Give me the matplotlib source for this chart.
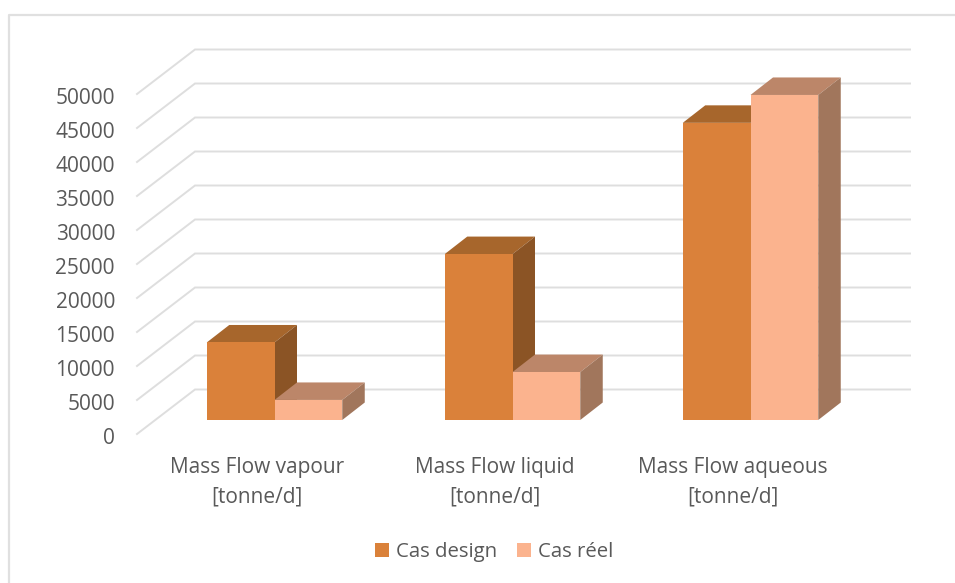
import matplotlib
matplotlib.use("Agg")
import matplotlib.pyplot as plt
from matplotlib.lines import Line2D
from matplotlib.patches import Polygon

plt.rcParams['font.family'] = ['Open Sans', 'DejaVu Sans']

# DATA
categories = ["Mass Flow vapour\n[tonne/d]", "Mass Flow liquid\n[tonne/d]", "Mass Flow aqueous\n[tonne/d]"]
cas_design = [11400, 24400, 43700]
cas_reel = [2950, 7050, 47800]
ticks = [0, 5000, 10000, 15000, 20000, 25000, 30000, 35000, 40000, 45000, 50000]

W, H = 955, 583
# pixel layout of the front of the bars
PX_CAT = 238.0
PX_VAL = 34.0 / 5000
BAR_W = 67.75 / PX_CAT
DEPTH_X = 22.5 / PX_CAT
DEPTH_Y = 17.5 / PX_VAL
TEXT_COL = "#595959"
GRID_COL = "#dedede"

fig = plt.figure(figsize=(W / 100, H / 100), dpi=100)
ax = fig.add_axes([155.5 / W, (H - 420) / H, 714 / W, 340 / H])
ax.set_xlim(-0.5, 2.5)
ax.set_ylim(0, 50000)
ax.axis("off")

# chart frame, runs off the right and bottom of the image
fig.add_artist(Line2D([9 / W, 9 / W, 1], [0, (H - 14.5) / H, (H - 14.5) / H],
                      color="#e0e0e0", lw=1.6, transform=fig.transFigure))

# floor and back wall lines
for t in ticks:
    back = t + 30.5 / PX_VAL
    front = t - 14 / PX_VAL
    ax.plot([(137 - 155.5) / PX_CAT - 0.5, (195 - 155.5) / PX_CAT - 0.5, (910 - 155.5) / PX_CAT - 0.5],
            [front, back, back], color=GRID_COL, lw=1.4, clip_on=False, zorder=1, solid_joinstyle="miter")
    ax.text(-0.5 + (115 - 155.5) / PX_CAT, t - 18 / PX_VAL, str(t), ha="right", va="center",
            color=TEXT_COL, fontsize=15, clip_on=False)


def bar3d(x, v, front, top, side, z):
    left = x
    right = x + BAR_W
    ax.add_patch(Polygon([(left, v), (right, v), (right + DEPTH_X, v + DEPTH_Y), (left + DEPTH_X, v + DEPTH_Y)],
                         closed=True, fc=top, ec="none", zorder=z, clip_on=False))
    ax.add_patch(Polygon([(right, 0), (right + DEPTH_X, DEPTH_Y), (right + DEPTH_X, v + DEPTH_Y), (right, v)],
                         closed=True, fc=side, ec="none", zorder=z, clip_on=False))
    return ax.bar(x, v, BAR_W, align="edge", color=front, zorder=z + 0.1, clip_on=False)


for i in range(len(categories)):
    h1 = bar3d(i - BAR_W, cas_design[i], "#da813a", "#a7662c", "#8b5425", 2 + i)
    h2 = bar3d(i, cas_reel[i], "#fbb38e", "#bc8669", "#a1765c", 2.5 + i)

# labels sit a bit left of the bar groups
for i, c in enumerate(categories):
    ax.text(i - 17.5 / PX_CAT, -37 / PX_VAL, c, ha="center", va="top",
            color=TEXT_COL, fontsize=15, linespacing=1.52, clip_on=False)

fig.legend([h1, h2], ["Cas design", "Cas réel"], loc="center", bbox_to_anchor=(494 / W, (H - 552) / H),
           ncol=2, frameon=False, fontsize=14.7, labelcolor=TEXT_COL, handlelength=0.7, handleheight=0.7,
           handletextpad=0.3, columnspacing=1.0)

fig.savefig("out.png", dpi=100)
